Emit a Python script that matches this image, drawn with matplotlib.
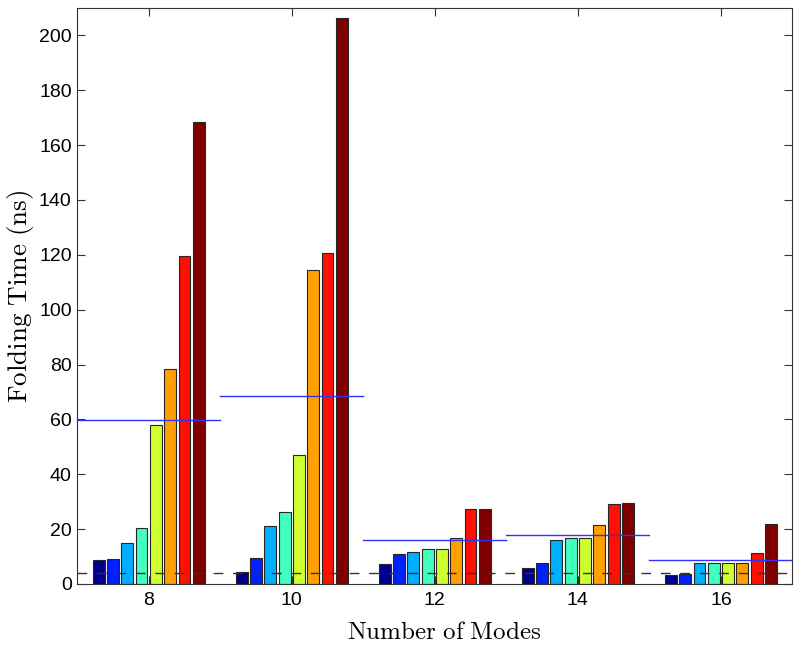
import numpy as np
import matplotlib
matplotlib.use('Agg')
import matplotlib.pyplot as plt

plt.rcParams['mathtext.fontset'] = 'cm'
plt.rcParams['font.family'] = ['Liberation Sans', 'DejaVu Sans']

modes = [8, 10, 12, 14, 16]
# folding times (ns), 8 runs per number of modes
t8 = [8.7, 9.0, 14.8, 20.3, 58.0, 78.3, 119.6, 168.3]
t10 = [4.2, 9.3, 21.0, 26.2, 47.0, 114.3, 120.8, 206.2]
t12 = [7.3, 10.9, 11.5, 12.8, 12.8, 16.8, 27.4, 27.4]
t14 = [6.0, 7.5, 16.1, 16.8, 16.8, 21.5, 29.1, 29.7]
t16 = [3.2, 3.5, 7.7, 7.7, 7.7, 7.7, 11.4, 22.0]
ref_level = 4.0

# jet-like colours, one per run
run_colors = ['#00008f', '#0020ff', '#00afff', '#40ffbf',
              '#cfff30', '#ffa000', '#ff1000', '#800000']

data = np.array([t8, t10, t12, t14, t16])
nruns = data.shape[1]

fig = plt.figure(figsize=(8, 6.45), dpi=100)
ax = fig.add_axes([0.0965, 0.0946, 0.894, 0.893])

for i in range(nruns):
    off = (i - (nruns - 1) / 2.0) * 0.2
    ax.bar(np.array(modes) + off, data[:, i], width=0.165, color=run_colors[i],
           edgecolor='#262626', linewidth=0.8, zorder=2)

# mean of each group
for m, row in zip(modes, data):
    ax.plot([m - 1, m + 1], [row.mean()] * 2, color='#3030ff', lw=1.0, zorder=3)

ax.axhline(ref_level, color='#333333', lw=1.0, dashes=(7, 7), zorder=3)

ax.set_xlim(7, 17)
ax.set_ylim(0, 210)
ax.set_xticks(modes)
ax.set_yticks(range(0, 201, 20))
ax.tick_params(direction='in', top=True, right=True, labelsize=14, length=6,
               color='#333333')
ax.tick_params(axis='x', pad=6)
ax.tick_params(axis='y', pad=4)
for s in ax.spines.values():
    s.set_color('#333333')

ax.set_xlabel(r'$\mathrm{Number\ of\ Modes}$', fontsize=18)
ax.set_ylabel(r'$\mathrm{Folding\ Time\ (ns)}$', fontsize=19.5)
ax.xaxis.set_label_coords(0.513, -0.062)
ax.yaxis.set_label_coords(-0.058, 0.5)

fig.savefig('out.png', dpi=100)
